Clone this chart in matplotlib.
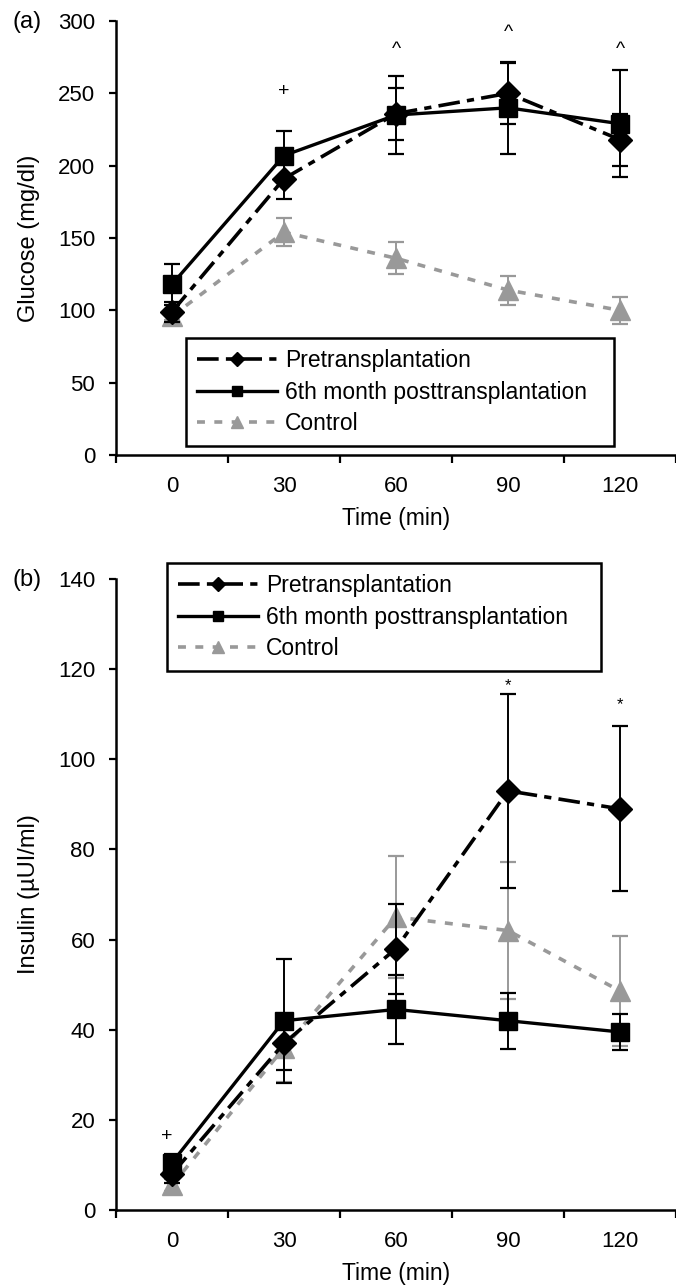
import numpy as np
import matplotlib
matplotlib.use("Agg")
import matplotlib.pyplot as plt
from matplotlib.lines import Line2D

plt.rcParams['font.family'] = ['Liberation Sans', 'DejaVu Sans']

# ---------------- data ----------------
time_labels = ["0", "30", "60", "90", "120"]

glu_pre = [99, 191, 236, 250, 218]
glu_pre_err = [7, 14, 18, 21, 18]
glu_post = [118, 207, 235, 240, 229]
glu_post_err = [14, 17, 27, 32, 37]
glu_ctrl = [96, 154, 136, 114, 100]
glu_ctrl_err = [3, 9.5, 11, 10, 9.5]

ins_pre = [8, 37, 58, 93, 89]
ins_pre_err = [2, 6, 10, 21.5, 18.3]
ins_post = [10.5, 42, 44.5, 42, 39.5]
ins_post_err = [2, 13.8, 7.7, 6.2, 4]
ins_ctrl = [5.5, 36, 65, 62, 48.6]
ins_ctrl_err = [1.3, 7.5, 13.5, 15.2, 12.3]

glu_marks = [(1, 251, "+"), (2, 280, "^"), (3, 292, "^"), (4, 280, "^")]
ins_marks = [(-0.05, 16.3, "+"), (3, 116.3, "*"), (4, 112.2, "*")]

series_names = ["Pretransplantation", "6th month posttransplantation", "Control"]

# ---------------- layout ----------------
W, H = 676, 1286
fig = plt.figure(figsize=(W / 100, H / 100), dpi=100)


def px_rect(left, top, right, bottom):
    return [left / W, 1 - bottom / H, (right - left) / W, (bottom - top) / H]


GRAY = "#999999"
x = np.arange(len(time_labels))
PRE_DASH = [6, 2, 2, 2]
CTRL_DASH = [2.2, 2.6]

pre_style = dict(color="black", lw=2.6, dashes=PRE_DASH, marker="D", ms=12,
                 mfc="black", mec="black")
post_style = dict(color="black", lw=2.4, ls="-", marker="s", ms=13.5, mfc="black", mec="black")
ctrl_style = dict(color=GRAY, lw=2.6, dashes=CTRL_DASH, marker="^", ms=15, mfc=GRAY, mec=GRAY)

TICK_FS = 16
LABEL_FS = 16.5
LEG_FS = 16.5


def draw_panel(ax, pre, pre_e, post, post_e, ctrl, ctrl_e, ymax, ystep, ylabel):
    ebkw = dict(fmt="none", elinewidth=1.4, capsize=5.5, capthick=1.6)
    ax.errorbar(x, ctrl, yerr=ctrl_e, ecolor=GRAY, zorder=2, **ebkw)
    ax.plot(x, ctrl, zorder=2.5, **ctrl_style)
    ax.errorbar(x, pre, yerr=pre_e, ecolor="black", zorder=3, **ebkw)
    ax.plot(x, pre, zorder=3.5, **pre_style)
    ax.errorbar(x, post, yerr=post_e, ecolor="black", zorder=4, **ebkw)
    ax.plot(x, post, zorder=4.5, **post_style)

    ax.set_xlim(-0.5, 4.46)
    ax.set_ylim(0, ymax)
    ax.set_yticks(np.arange(0, ymax + 1, ystep))
    ax.set_xticks(x)
    ax.set_xticklabels(time_labels)
    ax.set_xticks(np.arange(-0.5, 4.6, 1), minor=True)
    ax.tick_params(axis="x", which="major", length=0, pad=15, labelsize=TICK_FS)
    ax.tick_params(axis="x", which="minor", length=6, width=1.6, direction="out")
    ax.tick_params(axis="y", which="major", length=5, width=1.6, direction="out",
                   pad=10, labelsize=TICK_FS)
    for s in ["top", "right"]:
        ax.spines[s].set_visible(False)
    for s in ["left", "bottom"]:
        ax.spines[s].set_linewidth(1.8)
    ax.set_xlabel("Time (min)", fontsize=LABEL_FS, labelpad=7)
    ax.set_ylabel(ylabel, fontsize=17, labelpad=13)


def legend_handles():
    return [
        Line2D([0], [0], color="black", lw=2.6, dashes=PRE_DASH, marker="D", ms=7,
               mfc="black", mec="black"),
        Line2D([0], [0], color="black", lw=2.4, ls="-", marker="s", ms=7, mfc="black", mec="black"),
        Line2D([0], [0], color=GRAY, lw=2.6, dashes=CTRL_DASH, marker="^", ms=9, mfc=GRAY, mec=GRAY),
    ]


def add_legend(ax, left, top, right, bottom):
    r = px_rect(left, top, right, bottom)
    leg = ax.legend(legend_handles(), series_names, loc="upper left",
                    bbox_to_anchor=(r[0], r[1], r[2], r[3]), bbox_transform=fig.transFigure,
                    mode="expand", fontsize=LEG_FS, frameon=True, fancybox=False, shadow=False,
                    handlelength=3.5, handletextpad=0.35, labelspacing=0.38, borderpad=0.48,
                    borderaxespad=0)
    leg.get_frame().set_edgecolor("black")
    leg.get_frame().set_linewidth(1.8)
    leg.get_frame().set_alpha(1)
    leg.set_zorder(10)
    return leg


# panel (a)
ax1 = fig.add_axes(px_rect(116, 21, 676, 455))
draw_panel(ax1, glu_pre, glu_pre_err, glu_post, glu_post_err, glu_ctrl, glu_ctrl_err,
           300, 50, "Glucose (mg/dl)")
add_legend(ax1, 186, 338, 614, 445)
for xi, yi, t in glu_marks:
    ax1.text(xi, yi, t, ha="center", va="center", fontsize=14)
fig.text(12 / W, 1 - 22 / H, "(a)", fontsize=17, ha="left", va="center")

# panel (b)
ax2 = fig.add_axes(px_rect(116, 579, 676, 1210))
draw_panel(ax2, ins_pre, ins_pre_err, ins_post, ins_post_err, ins_ctrl, ins_ctrl_err,
           140, 20, "Insulin (\u00b5UI/ml)")
add_legend(ax2, 167, 563, 601, 671)
for xi, yi, t in ins_marks:
    ax2.text(xi, yi, t, ha="center", va="center", fontsize=14 if t == "+" else 12)
fig.text(12 / W, 1 - 580 / H, "(b)", fontsize=17, ha="left", va="center")

fig.savefig("out.png", dpi=100)
